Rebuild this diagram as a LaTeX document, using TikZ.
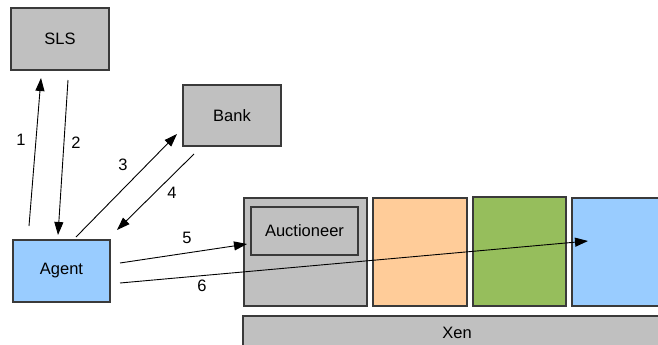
\documentclass[tikz,border=0pt]{standalone}
\usepackage{fontspec}
\setmainfont{Liberation Sans}
\usetikzlibrary{arrows.meta}
\definecolor{boxgray}{HTML}{C0C0C0}
\definecolor{boxblue}{HTML}{99CCFF}
\definecolor{boxorange}{HTML}{FFCC99}
\definecolor{boxgreen}{HTML}{96BE5C}
\definecolor{edgegray}{HTML}{3A3A3A}
\tikzset{
  box/.style={draw=edgegray, line width=1.2pt, inner sep=0pt, font=\fontsize{16.5}{20}\selectfont},
  msg/.style={draw=black, line width=0.9pt, -{Triangle[length=13pt,width=9pt]}},
  num/.style={font=\fontsize{16.5}{20}\selectfont, inner sep=0pt}
}
\begin{document}
\begin{tikzpicture}[x=1pt,y=-1pt]
\useasboundingbox (0,0) rectangle (658,345);
\clip (0,0) rectangle (658,345);
% components
\node[box, fill=boxgray, minimum width=98pt, minimum height=62pt] (sls) at (60,39) {SLS};
\node[box, fill=boxgray, minimum width=98pt, minimum height=61pt] (bank) at (232,115.5) {Bank};
\node[box, fill=boxblue, minimum width=97pt, minimum height=62pt] (agent) at (61.5,271) {Agent};
% Xen domains
\node[box, fill=boxgray, minimum width=123pt, minimum height=108pt] (dom0) at (305.5,252) {};
\node[box, fill=boxgray, minimum width=107pt, minimum height=48pt] (auct) at (304.5,231) {Auctioneer};
\node[box, fill=boxorange, minimum width=94pt, minimum height=108pt] (domA) at (420,252) {};
\node[box, fill=boxgreen, minimum width=93pt, minimum height=109pt] (domB) at (519.5,251.5) {};
\node[box, fill=boxblue, minimum width=160pt, minimum height=108pt] (domC) at (652,252) {};
\node[box, fill=boxgray, minimum width=428pt, minimum height=34pt] (xen) at (457,333) {Xen};
% message end points
\coordinate (a1) at (29,226);   \coordinate (s1) at (41,78);
\coordinate (s2) at (68,80);    \coordinate (a2) at (58,235);
\coordinate (a3) at (76,237);   \coordinate (b3) at (177,134);
\coordinate (b4) at (194,154);  \coordinate (a4) at (117,230);
\coordinate (a5) at (120,263);  \coordinate (x5) at (247,244);
\coordinate (a6) at (120,283);  \coordinate (x6) at (588,241);
% messages
\draw[msg] (a1) -- (s1);
\draw[msg] (s2) -- (a2);
\draw[msg] (a3) -- (b3);
\draw[msg] (b4) -- (a4);
\draw[msg] (a5) -- (x5);
\draw[msg] (a6) -- (x6);
% message numbers
\node[num] (n1) at (21,140) {1};
\node[num] (n2) at (76,143) {2};
\node[num] (n3) at (123,165) {3};
\node[num] (n4) at (172,193) {4};
\node[num] (n5) at (187,238) {5};
\node[num] (n6) at (202,286) {6};
\end{tikzpicture}
\end{document}
